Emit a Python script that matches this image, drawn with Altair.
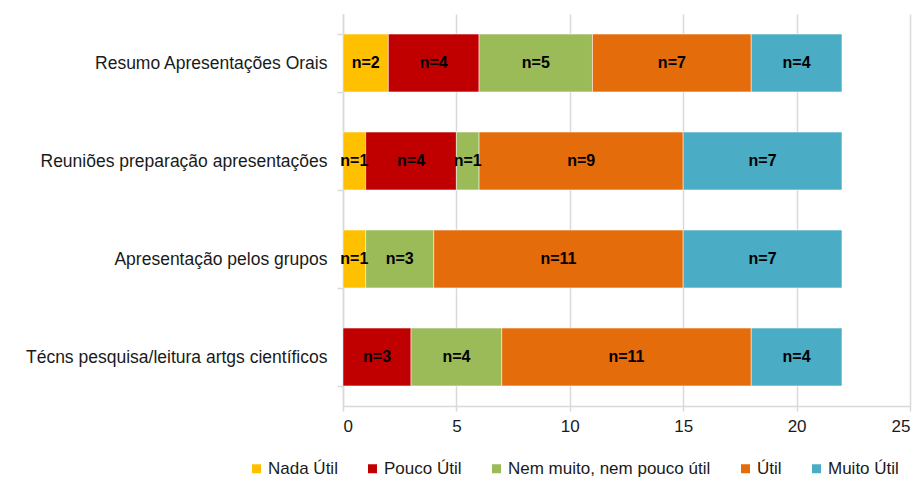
import altair as alt
import pandas as pd

categories = [
    "Resumo Apresentações Orais",
    "Reuniões preparação apresentações",
    "Apresentação pelos grupos",
    "Técns pesquisa/leitura artgs científicos",
]
levels = ["Nada Útil", "Pouco Útil", "Nem muito, nem pouco útil", "Útil", "Muito Útil"]
colors = ["#FFC000", "#C00000", "#9BBB59", "#E46C0A", "#4BACC6"]
counts = [
    [2, 4, 5, 7, 4],
    [1, 4, 1, 9, 7],
    [1, 0, 3, 11, 7],
    [0, 3, 4, 11, 4],
]

rows = []
for c, vals in zip(categories, counts):
    for i, (lvl, v) in enumerate(zip(levels, vals)):
        if v > 0:
            rows.append({"cat": c, "level": lvl, "ord": i, "n": v, "label": f"n={v}"})
df = pd.DataFrame(rows)

font = "Liberation Sans"
txt = "#1a1a1a"
gray = "#d9d9d9"

base = alt.Chart(df).transform_stack(
    stack="n", groupby=["cat"], as_=["x0", "x1"], sort=[alt.SortField("ord", order="ascending")]
).transform_calculate(mid="(datum.x0 + datum.x1) / 2")

yenc = alt.Y(
    "cat:N",
    sort=categories,
    title=None,
    scale=alt.Scale(paddingInner=0.41, paddingOuter=0.205),
    axis=alt.Axis(
        labelFontSize=17.5,
        labelFont=font,
        labelColor=txt,
        labelPadding=10,
        labelLimit=400,
        tickBand="extent",
        ticks=True,
        tickSize=6,
        tickWidth=1.5,
        tickColor=gray,
        domainColor=gray,
        domainWidth=1.5,
        grid=False,
    ),
)

bars = base.mark_bar(stroke="white", strokeWidth=0.5).encode(
    y=yenc,
    x=alt.X(
        "x0:Q",
        title=None,
        scale=alt.Scale(domain=[0, 25], nice=False),
        axis=alt.Axis(
            values=[0, 5, 10, 15, 20, 25],
            labelFontSize=17,
            labelFont=font,
            labelColor=txt,
            labelPadding=7,
            grid=True,
            gridColor=gray,
            gridWidth=1.5,
            domainColor=gray,
            domainWidth=1.5,
            tickColor=gray,
            tickWidth=1.5,
            tickSize=5,
        ),
    ),
    x2="x1:Q",
    color=alt.Color(
        "level:N",
        sort=levels,
        scale=alt.Scale(domain=levels, range=colors),
        legend=alt.Legend(
            title=None,
            orient="none",
            direction="horizontal",
            legendX=-95,
            legendY=446,
            symbolType="square",
            symbolSize=81,
            symbolStrokeWidth=0,
            symbolOffset=0,
            labelFontSize=17,
            labelFont=font,
            labelColor=txt,
            columnPadding=26,
            labelOffset=3,
            labelLimit=400,
        ),
    ),
)

texts = base.mark_text(fontWeight="bold", fontSize=16, font=font, color="black").encode(
    y=alt.Y("cat:N", sort=categories),
    x="mid:Q",
    text="label:N",
)

chart = (
    alt.layer(bars, texts)
    .properties(
        width=567,
        height=392,
        autosize=alt.AutoSizeParams(type="none"),
        padding={"left": 335, "top": 6, "right": 6, "bottom": 90},
    )
    .configure_view(stroke=None)
)

chart.save("out.html", embed_options={"renderer": "svg", "actions": False})
